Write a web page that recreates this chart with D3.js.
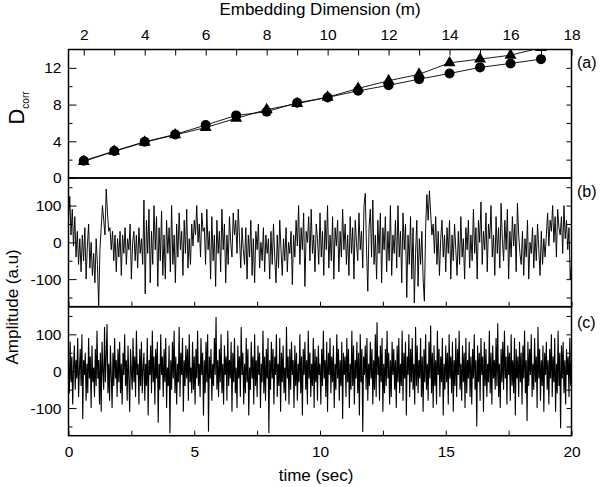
<!DOCTYPE html>
<html><head><meta charset="utf-8">
<script src="https://cdn.jsdelivr.net/npm/d3@7"></script>
<style>
html,body{margin:0;padding:0;background:#fff;}
svg{display:block;font-family:"Liberation Sans",Arial,Helvetica,sans-serif;}
</style></head>
<body>
<svg id="chart" width="600" height="487"></svg>
<script>
// ---------- DATA ----------
const dims = [2,3,4,5,6,7,8,9,10,11,12,13,14,15,16,17];
const dcorrCircle   = [1.88,2.94,3.95,4.75,5.77,6.82,7.22,8.2,8.78,9.5,10.1,10.77,11.39,12.05,12.48,12.95];
const dcorrTriangle = [1.8,2.9,3.9,4.7,5.5,6.5,7.45,8.1,8.8,9.76,10.6,11.3,12.55,12.95,13.38,14.2];

const dimTicks = [2,4,6,8,10,12,14,16,18];
const dcorrTicks = [0,4,8,12];
const ampTicks = [-100,0,100];
const timeTicks = [0,5,10,15,20];

// panel (b) signal, 20 samples per second (dt = 0.05 s)
const signalB = [
 60,125,20,90,-10,70,-40,30,-60,10,-80,20,-50,40,-100,-10,50,-70,0,-90,
 -30,-110,10,-60,-175,-20,40,100,60,20,145,80,30,40,-20,30,-50,20,-80,10,
 -40,30,-90,20,-30,40,-60,10,-20,50,-100,0,30,-50,20,-70,40,-30,10,-60,
 115,-140,60,-30,90,-110,30,-60,100,-20,70,-120,40,-50,85,-90,20,-100,60,-30,
 40,-80,100,-60,20,-110,50,-40,80,-20,30,-90,60,-30,90,-70,10,-60,50,-10,
 60,20,100,0,50,-40,80,30,40,-60,90,-20,30,-100,70,-50,20,-120,60,-30,
 30,-80,90,-20,50,-110,20,-60,70,0,-40,80,20,60,-30,90,10,-70,40,-20,
 -60,40,-100,20,-40,60,-90,10,-110,30,-20,50,-70,0,-50,40,-80,20,-30,10,
 -100,30,-60,50,-40,-110,20,-70,60,-20,-90,10,-50,40,-80,0,-30,30,-115,20,
 -40,60,-10,100,-60,40,-20,80,-120,30,0,70,-50,90,-30,20,-80,50,10,-60,
 80,-40,30,-90,60,-20,100,-70,20,-50,70,-100,40,-10,60,-80,30,-40,90,-20,
 50,-60,20,-90,70,-30,40,-100,60,0,-50,80,-20,30,-70,100,133,-20,-133,40,
 90,-40,115,-60,20,-100,60,-30,80,-110,40,-20,70,-80,30,-50,100,-90,20,-30,
 60,-70,100,-40,30,-110,80,-20,50,-150,20,-60,70,-100,40,-165,-30,60,-120,10,
 -60,30,-100,-160,40,130,60,140,80,20,50,-30,70,-60,30,-90,10,60,-40,20,
 -80,40,-30,60,-100,20,-50,50,-20,-90,30,-60,70,-40,10,-100,40,-20,60,-70,
 20,-50,90,-30,40,-100,60,0,110,-60,30,-20,80,-80,50,10,100,-40,20,-90,
 70,-30,40,-70,106,10,-50,60,-20,90,-100,30,-40,70,-10,50,-80,106,20,-30,
 -60,30,-90,10,-40,60,-100,0,-30,40,-70,20,-50,50,-20,-90,30,-60,10,-40,
 20,80,-10,60,30,100,0,70,-40,90,40,20,70,-30,100,10,60,-20,40,-100,
 -60
];

// panel (c) signal, 30 samples per second
const signalC = [
 20,-60,80,-30,40,-90,10,70,-50,30,-20,90,-70,0,60,-40,100,-130,30,-10,50,-80,20,-60,90,-20,40,-100,70,-30,
 10,-70,60,-40,110,-20,30,-90,50,-110,80,0,-50,120,-30,40,128,-60,20,-80,70,-10,-100,50,-40,90,-20,30,-70,60,
 -30,80,-60,20,-90,50,-10,100,-40,30,-80,70,-20,-110,60,0,-50,90,-30,40,-70,110,-10,20,-90,60,-40,80,-60,10,
 50,-80,20,-40,90,-120,30,-10,70,-60,110,-30,40,-90,60,-20,80,-140,20,-50,100,-10,40,-70,60,-30,90,-100,10,-40,
 70,-168,30,-50,80,-20,110,-60,40,-90,20,-30,120,-70,50,-10,90,-110,30,-40,70,-20,60,-80,100,-30,10,-60,80,-50,
 40,-90,60,-20,110,-40,20,-70,90,-10,50,-120,30,-60,80,-30,100,-164,40,-20,60,-80,20,-40,90,-10,147,-50,30,-70,
 60,-30,100,-60,20,-90,70,-10,40,-80,110,-40,30,-20,80,-110,50,-30,90,-60,10,-100,70,-20,40,-70,120,-10,50,-90,
 20,-60,90,-30,60,-120,10,-50,80,-20,40,-90,100,-40,30,-70,70,-10,50,-100,20,-30,110,-60,40,-80,60,-20,90,-168,
 30,-50,80,-20,60,-90,40,-10,100,-70,20,-40,90,-110,50,-30,70,-60,10,-80,120,-20,40,-90,60,-50,80,-10,30,-100,
 70,-40,50,-80,20,-30,100,-60,40,-120,60,-10,80,-50,30,-90,110,-20,50,-70,20,-40,90,-100,60,-30,40,-80,70,-10,
 20,-90,60,-40,110,-20,30,-70,80,-110,50,-10,90,-60,40,-30,70,-100,20,-50,100,-20,60,-80,30,-40,80,-130,50,-10,
 40,-70,90,-30,60,-100,20,-50,110,-40,70,-90,30,-20,80,-60,50,-120,100,-30,60,-165,40,-10,70,-50,90,-80,20,-40,
 80,-20,60,-90,30,-50,100,-70,133,-10,40,-80,70,-30,90,-110,20,-60,60,-40,110,-20,50,-90,30,-70,80,-10,60,-50,
 30,-100,70,-30,90,-60,20,-40,110,-80,50,-20,80,-120,40,-10,100,-70,60,-30,90,-50,20,-90,120,-40,70,-60,30,-20,
 90,-70,40,-110,60,-30,100,-50,20,-80,80,-20,124,-60,50,-100,70,-40,30,-90,110,-10,60,-70,40,-30,90,-120,20,-50,
 70,-30,50,-90,100,-20,40,-60,80,-110,30,-40,90,-70,60,-10,110,-50,20,-80,70,-30,50,-100,90,-60,30,-20,80,-70,
 40,-90,60,-20,100,-50,30,-150,70,-30,50,-80,90,-10,40,-110,80,-40,60,-70,20,-30,110,-60,50,-90,70,-20,30,-50,
 90,-40,130,-70,20,-100,60,-30,80,-50,110,-20,40,-90,70,-10,50,-80,100,-40,30,-60,90,-120,60,-20,40,-70,80,-30,
 50,-90,70,-20,110,-60,30,-135,80,-40,60,-10,100,-70,20,-50,90,-30,40,-100,120,-20,60,-80,30,-40,70,-110,50,-10,
 80,-50,30,-90,60,-20,100,-70,40,-30,90,-110,20,-60,110,-40,50,-155,70,-20,80,-60,30,-90,60,-10,40,-70,90,-40,
 20
];

// ---------- LAYOUT ----------
const svg = d3.select("#chart");
const L = 68.5, R = 571.5;
const aTop = 49.5, aBot = 178, bBot = 306.7, cBot = 435.7;
const tickFont = 15.5, titleFont = 17;
const fmt = d => String(d);

const xm = d3.scaleLinear().domain([1.5,18]).range([L,R]);
const ya = d3.scaleLinear().domain([0,14]).range([aBot,aTop]);
const xt = d3.scaleLinear().domain([0,20]).range([L,R]);
const yb = d3.scaleLinear().domain([-175,175]).range([bBot,aBot]);
const yc = d3.scaleLinear().domain([-175,175]).range([cBot,bBot]);

const defs = svg.append("defs");
function clip(id,y0,y1){
  defs.append("clipPath").attr("id",id).append("rect")
    .attr("x",L).attr("y",y0).attr("width",R-L).attr("height",y1-y0);
}
clip("ca",aTop,aBot); clip("cb",aBot,bBot); clip("cc",bBot,cBot);

function styleAxis(g){
  g.select(".domain").remove();
  g.selectAll("line").attr("stroke","#000").attr("stroke-width",1);
  g.selectAll("text").attr("font-size",tickFont).attr("fill","#000")
   .attr("font-family","'Liberation Sans',Arial,sans-serif");
}

// ----- panel (a) -----
const mAll = d3.range(2,19,1);
svg.append("g").attr("transform",`translate(0,${aTop})`)
  .call(d3.axisTop(xm).tickValues(mAll).tickSize(-6).tickPadding(10)
        .tickFormat(d=> dimTicks.includes(d)? fmt(d) : ""))
  .call(styleAxis);
svg.append("g").attr("transform",`translate(${L},0)`)
  .call(d3.axisLeft(ya).tickValues(dcorrTicks).tickSize(-8).tickPadding(7).tickFormat(fmt))
  .call(styleAxis);
svg.append("g").attr("transform",`translate(${L},0)`)
  .call(d3.axisLeft(ya).tickValues([2,6,10]).tickSize(-4).tickFormat(""))
  .call(styleAxis);
svg.append("g").attr("transform",`translate(${R},0)`)
  .call(d3.axisRight(ya).tickValues([2,4,6,8,10,12]).tickSize(-5).tickFormat(""))
  .call(styleAxis);

const ga = svg.append("g").attr("clip-path","url(#ca)");
const lineA = d3.line().x((d,i)=>xm(dims[i])).y(d=>ya(d));
ga.append("path").datum(dcorrTriangle).attr("d",lineA)
  .attr("fill","none").attr("stroke","#000").attr("stroke-width",0.9);
ga.append("path").datum(dcorrCircle).attr("d",lineA)
  .attr("fill","none").attr("stroke","#000").attr("stroke-width",0.9);
ga.selectAll("path.tri").data(dcorrTriangle).join("path").attr("class","tri")
  .attr("d",d3.symbol(d3.symbolTriangle,62)())
  .attr("transform",(d,i)=>`translate(${xm(dims[i])},${ya(d)})`)
  .attr("fill","#000");
ga.selectAll("circle").data(dcorrCircle).join("circle")
  .attr("cx",(d,i)=>xm(dims[i])).attr("cy",d=>ya(d)).attr("r",5)
  .attr("fill","#000");

// ----- panels (b) and (c) -----
function signalPanel(data, rate, yS, y0, y1, clipId, sw){
  const minor = [-150,-50,50,150];
  svg.append("g").attr("transform",`translate(${L},0)`)
    .call(d3.axisLeft(yS).tickValues(ampTicks).tickSize(-8).tickPadding(7).tickFormat(fmt))
    .call(styleAxis);
  svg.append("g").attr("transform",`translate(${L},0)`)
    .call(d3.axisLeft(yS).tickValues(minor).tickSize(-4).tickFormat(""))
    .call(styleAxis);
  svg.append("g").attr("transform",`translate(${R},0)`)
    .call(d3.axisRight(yS).tickValues([-150,-100,-50,0,50,100,150]).tickSize(-5).tickFormat(""))
    .call(styleAxis);
  svg.append("g").attr("transform",`translate(0,${y1})`)
    .call(d3.axisBottom(xt).tickValues(d3.range(0,20.1,2.5)).tickSize(-5).tickFormat(""))
    .call(styleAxis);
  const line = d3.line().x((d,i)=>xt(i/rate)).y(d=>yS(d));
  svg.append("g").attr("clip-path",`url(#${clipId})`)
    .append("path").datum(data).attr("d",line)
    .attr("fill","none").attr("stroke","#000").attr("stroke-width",sw)
    .attr("stroke-linejoin","miter");
}
signalPanel(signalB, 20, yb, aBot, bBot, "cb", 0.95);
signalPanel(signalC, 30, yc, bBot, cBot, "cc", 1.1);

svg.append("g").attr("transform",`translate(0,${cBot})`)
  .call(d3.axisBottom(xt).tickValues(timeTicks).tickSize(0).tickPadding(10).tickFormat(fmt))
  .call(styleAxis);

// frames
[[aTop,aBot],[aBot,bBot],[bBot,cBot]].forEach(([t,b])=>{
  svg.append("rect").attr("x",L).attr("y",t).attr("width",R-L).attr("height",b-t)
    .attr("fill","none").attr("stroke","#000").attr("stroke-width",1.5);
});

// titles
svg.append("text").attr("x",(L+R)/2).attr("y",15).attr("text-anchor","middle")
  .attr("font-size",titleFont).text("Embedding Dimension (m)");
svg.append("text").attr("x",(L+R)/2-4).attr("y",481).attr("text-anchor","middle")
  .attr("font-size",titleFont).text("time (sec)");
svg.append("text").attr("transform",`translate(18,${(aBot+cBot)/2}) rotate(-90)`)
  .attr("text-anchor","middle").attr("font-size",titleFont).text("Amplitude (a.u)");
const dt = svg.append("text").attr("transform",`translate(24,108) rotate(-90)`)
  .attr("text-anchor","middle");
dt.append("tspan").attr("font-size",22).text("D");
dt.append("tspan").attr("font-size",10).attr("dy",5).text("corr");

// panel labels
[["(a)",68],["(b)",197],["(c)",328]].forEach(([t,y])=>{
  svg.append("text").attr("x",577).attr("y",y).attr("font-size",16).text(t);
});
</script>
</body></html>
